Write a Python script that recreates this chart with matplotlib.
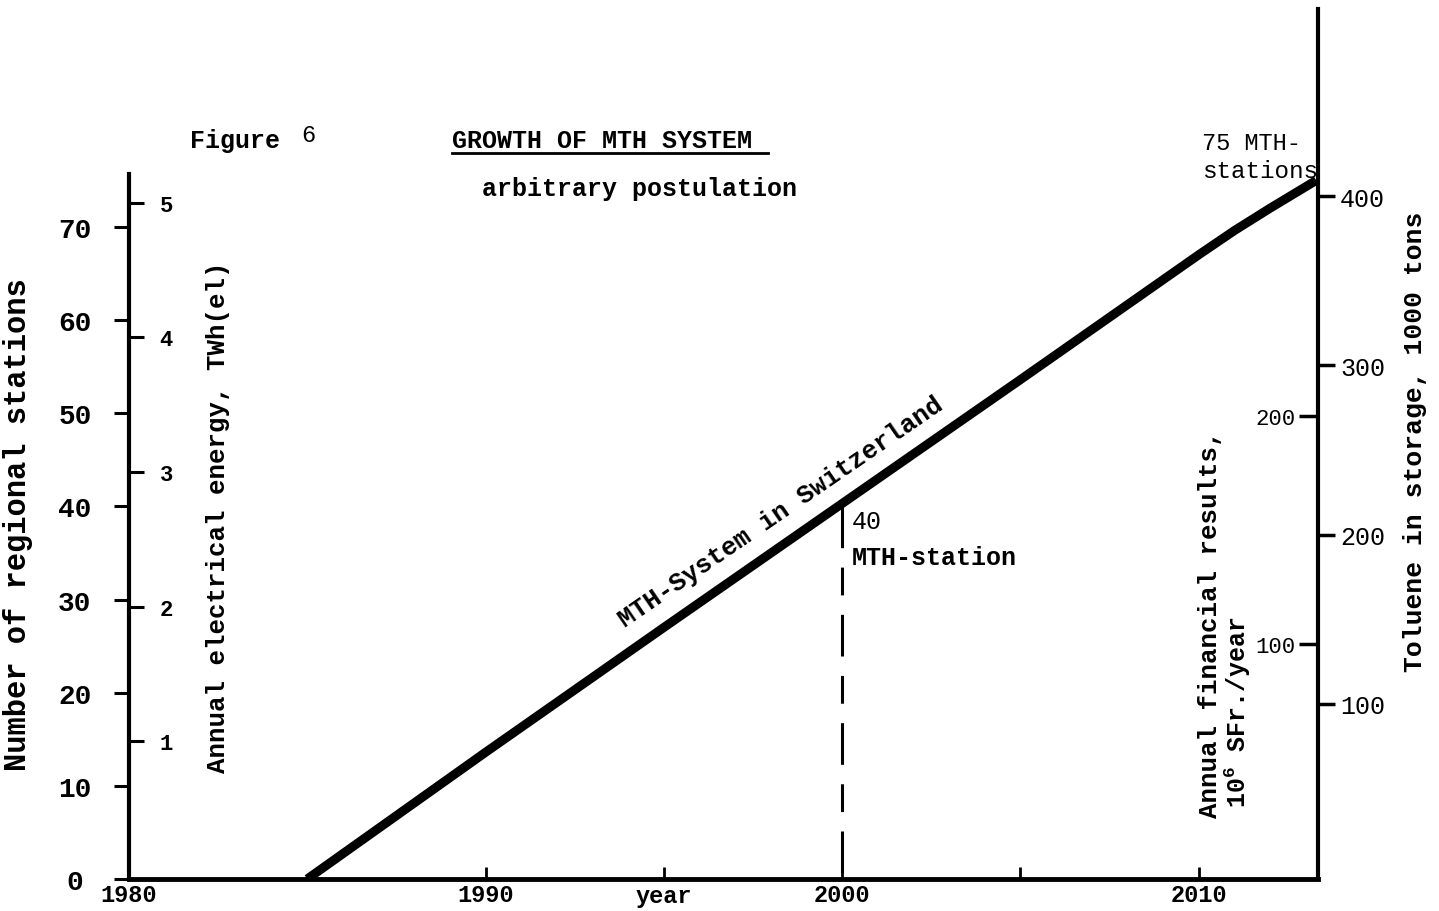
import numpy as np
import matplotlib
matplotlib.use("Agg")
import matplotlib.pyplot as plt
from matplotlib.lines import Line2D

plt.rcParams['font.family'] = ['Liberation Mono', 'DejaVu Sans Mono']
plt.rcParams['mathtext.fontset'] = 'custom'
plt.rcParams['mathtext.rm'] = 'Liberation Mono'
plt.rcParams['mathtext.bf'] = 'Liberation Mono:bold'
plt.rcParams['lines.scale_dashes'] = False

# growth of the MTH system
years = [1985, 1990, 1995, 2000, 2005, 2010, 2011, 2012, 2013.3]
stations = [0, 13.6, 27, 40.3, 53.6, 67, 69.6, 72, 75]

station_ticks = [0, 10, 20, 30, 40, 50, 60, 70]
energy_ticks = [1, 2, 3, 4, 5]
toluene_ticks = [100, 200, 300, 400]
finance_ticks = [100, 200]
year_ticks = [1980, 1990, 2000, 2010]
year_minor = [1995, 2005]
marker_year = 2000
marker_value = 40

# scales of the extra axes, in stations per unit and offset of their zero
energy_scale, energy_zero = 14.46, 0.32
toluene_scale, toluene_zero = 0.1817, 0.64
finance_scale, finance_zero = 0.2447, 0.75

ytop = 93.4
fig = plt.figure(figsize=(14.39, 9.12), dpi=100)
ax = fig.add_axes([129/1439, 32/912, 1189/1439, 870/912])
ax.set_xlim(1980, 2013.35)
ax.set_ylim(0, ytop)

ax.plot(years, stations, color='black', lw=6.5, solid_capstyle='butt', solid_joinstyle='round')
ax.plot([marker_year, marker_year], [marker_value, 0], color='black', lw=2.2,
        linestyle=(0, (30, 14, 20, 14)))

# spines
ax.spines['top'].set_visible(False)
ax.spines['left'].set_bounds(0, 75.7)
ax.spines['left'].set_linewidth(3)
ax.spines['bottom'].set_linewidth(3.5)
ax.spines['right'].set_linewidth(3)

# left: number of stations
ax.set_yticks(station_ticks)
ax.tick_params(axis='y', direction='out', length=11, width=2.2, pad=28, labelsize=20)
for t in ax.get_yticklabels():
    t.set_fontweight('bold')
    t.set_horizontalalignment('center')

# bottom: years
ax.set_xticks(year_ticks)
ax.set_xticks(year_minor, minor=True)
ax.tick_params(axis='x', which='both', direction='in', length=9, width=2, pad=3, labelsize=17)
for t in ax.get_xticklabels():
    t.set_fontweight('bold')
ax.set_xlabel('year', fontsize=17, fontweight='bold')
ax.xaxis.set_label_coords((1995 - 1980) / 33.35, -0.006)
ax.xaxis.label.set_verticalalignment('top')

# energy axis, ticks pointing inward from the left spine
ax_e = ax.twinx()
ax_e.set_ylim((0 - energy_zero) / energy_scale, (ytop - energy_zero) / energy_scale)
ax_e.spines['right'].set_position(('axes', 0))
for s in ax_e.spines.values():
    s.set_visible(False)
ax_e.set_yticks(energy_ticks)
ax_e.tick_params(axis='y', direction='out', length=11, width=2.2, pad=11, labelsize=16)
for t in ax_e.get_yticklabels():
    t.set_fontweight('bold')

# toluene axis on the right, outward
ax_t = ax.twinx()
ax_t.set_ylim((0 - toluene_zero) / toluene_scale, (ytop - toluene_zero) / toluene_scale)
for s in ax_t.spines.values():
    s.set_visible(False)
ax_t.set_yticks(toluene_ticks)
ax_t.tick_params(axis='y', direction='out', length=12, width=2.5, pad=4, labelsize=18)

# financial axis, ticks pointing into the plot from the right spine
ax_f = ax.twinx()
ax_f.set_ylim((0 - finance_zero) / finance_scale, (ytop - finance_zero) / finance_scale)
ax_f.spines['left'].set_position(('axes', 1))
for s in ax_f.spines.values():
    s.set_visible(False)
ax_f.yaxis.set_ticks_position('left')
ax_f.yaxis.set_label_position('left')
ax_f.set_yticks(finance_ticks)
ax_f.tick_params(axis='y', direction='out', length=14, width=2.5, pad=2, labelsize=16)

# axis titles
fig.text(18/1439, 1 - 525/912, 'Number of regional stations', rotation=90,
         ha='center', va='center', fontsize=22, fontweight='bold')
fig.text(218/1439, 1 - 517/912, 'Annual electrical energy, TWh(el)', rotation=90,
         ha='center', va='center', fontsize=18.5, fontweight='bold')
fig.text(1210/1439, 1 - 624/912, 'Annual financial results,', rotation=90,
         ha='center', va='center', fontsize=18.5, fontweight='bold')
fig.text(1238/1439, 1 - 712/912, r'10$^{\mathbf{6}}$ SFr./year', rotation=90,
         ha='center', va='center', fontsize=18, fontweight='bold')
fig.text(1415/1439, 1 - 442/912, 'Toluene in storage, 1000 tons', rotation=90,
         ha='center', va='center', fontsize=19, fontweight='bold')

# headings
fig.text(190/1439, 1 - 141/912, 'Figure', ha='left', va='center', fontsize=18, fontweight='bold')
fig.text(301/1439, 1 - 135/912, '6', ha='left', va='center', fontsize=17)
fig.text(452/1439, 1 - 141/912, 'GROWTH OF MTH SYSTEM', ha='left', va='center',
         fontsize=18, fontweight='bold')
fig.add_artist(Line2D([452/1439, 768/1439], [1 - 154/912, 1 - 154/912],
                      transform=fig.transFigure, color='black', lw=2))
fig.text(482/1439, 1 - 189/912, 'arbitrary postulation', ha='left', va='center',
         fontsize=18, fontweight='bold')

# annotations on the curve
fig.text(1202/1439, 1 - 143/912, '75 MTH-', ha='left', va='center', fontsize=17)
fig.text(1202/1439, 1 - 171/912, 'stations', ha='left', va='center', fontsize=17.5)
fig.text(852/1439, 1 - 522/912, '40', ha='left', va='center', fontsize=18)
fig.text(852/1439, 1 - 558/912, 'MTH-station', ha='left', va='center', fontsize=18, fontweight='bold')
fig.text(781/1439, 1 - 512/912, 'MTH-System in Switzerland', ha='center', va='center',
         rotation=34.5, rotation_mode='anchor', fontsize=18.5, fontweight='bold')

fig.savefig('out.png', dpi=100)
